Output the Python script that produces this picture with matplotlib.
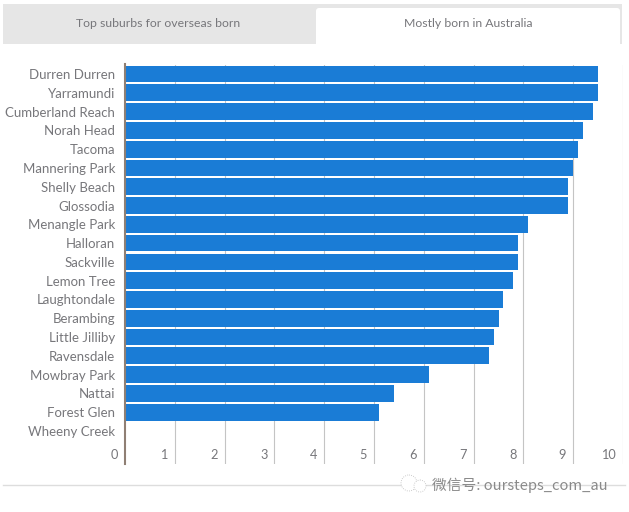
import matplotlib
matplotlib.use('Agg')
import matplotlib.pyplot as plt
from matplotlib.patches import Rectangle, FancyBboxPatch, Circle

suburbs = ['Durren Durren', 'Yarramundi', 'Cumberland Reach', 'Norah Head', 'Tacoma',
           'Mannering Park', 'Shelly Beach', 'Glossodia', 'Menangle Park', 'Halloran',
           'Sackville', 'Lemon Tree', 'Laughtondale', 'Berambing', 'Little Jilliby',
           'Ravensdale', 'Mowbray Park', 'Nattai', 'Forest Glen', 'Wheeny Creek']
values = [9.5, 9.5, 9.4, 9.2, 9.1, 9.0, 8.9, 8.9, 8.1, 7.9,
          7.9, 7.8, 7.6, 7.5, 7.4, 7.3, 6.1, 5.4, 5.1, 0]
ticks = [0, 1, 2, 3, 4, 5, 6, 7, 8, 9, 10]

W, H = 629, 512
plt.rcParams['font.family'] = ['Lato', 'Noto Sans CJK SC', 'DejaVu Sans']
GREY = '#77777b'

fig = plt.figure(figsize=(W / 100, H / 100), dpi=100)

# full-figure pixel layer for the tabs and the bottom rule
bg = fig.add_axes([0, 0, 1, 1])
bg.set_xlim(0, W)
bg.set_ylim(H, 0)
bg.axis('off')
bg.add_patch(Rectangle((3, 4), 314, 40, color='#e6e6e6', lw=0))
bg.add_patch(Rectangle((317, 4), 305, 40, color='#e6e6e6', lw=0))
bg.add_patch(FancyBboxPatch((316, 8), 304, 42, boxstyle='round,pad=0,rounding_size=3',
                            fc='white', ec='none'))
bg.add_patch(Rectangle((315, 44), 307, 8, color='white', lw=0))
bg.text(158, 23.5, 'Top suburbs for overseas born', ha='center', va='center',
        fontsize=8.8, color=GREY)
bg.text(468, 23.5, 'Mostly born in Australia', ha='center', va='center',
        fontsize=8.8, color=GREY)
bg.plot([3, 625], [484.5, 484.5], color='#dddddd', lw=1)

# chart axes: x 0-10 is px 125-623, rows are 18.79 px apart
left, right, top, bottom = 125, 623, 64.5, 464
ax = fig.add_axes([left / W, 1 - bottom / H, (right - left) / W, (bottom - top) / H])
ax.patch.set_alpha(0)
ax.set_xlim(0, 10)
ax.set_ylim((bottom - 74) / 18.79, (top - 74) / 18.79)

tick_row = (455 - 74) / 18.79
ax.barh(range(len(suburbs)), values, height=0.89, color='#1a7cd6', zorder=2)
for t in ticks[1:]:
    ax.axvline(t, color='#c4c4c4', lw=0.8, zorder=1)
for t in ticks:
    ax.text(t - 0.14, tick_row, str(t), ha='right', va='center', fontsize=9.2, color=GREY)

for s in ['top', 'right', 'bottom']:
    ax.spines[s].set_visible(False)
ax.spines['left'].set_color('#8f7f74')
ax.spines['left'].set_linewidth(1.5)
ax.set_xticks([])
ax.set_yticks(range(len(suburbs)))
ax.set_yticklabels(suburbs, fontsize=9.5, color=GREY)
ax.tick_params(axis='y', length=0, pad=7)

# watermark
wm = fig.add_axes([0, 0, 1, 1])
wm.set_xlim(0, W)
wm.set_ylim(H, 0)
wm.axis('off')
wm.add_patch(Circle((409, 483), 8, fc='white', ec='#bbbbbb', lw=0.6, ls=':'))
wm.add_patch(Circle((420, 486), 6, fc='white', ec='#bbbbbb', lw=0.6, ls=':'))
wm.text(432, 485, '微信号: oursteps_com_au', ha='left', va='center', fontsize=10.6,
        color='#8a8a8a', family=['Noto Sans CJK SC', 'DejaVu Sans'])

fig.savefig('out.png', dpi=100)
